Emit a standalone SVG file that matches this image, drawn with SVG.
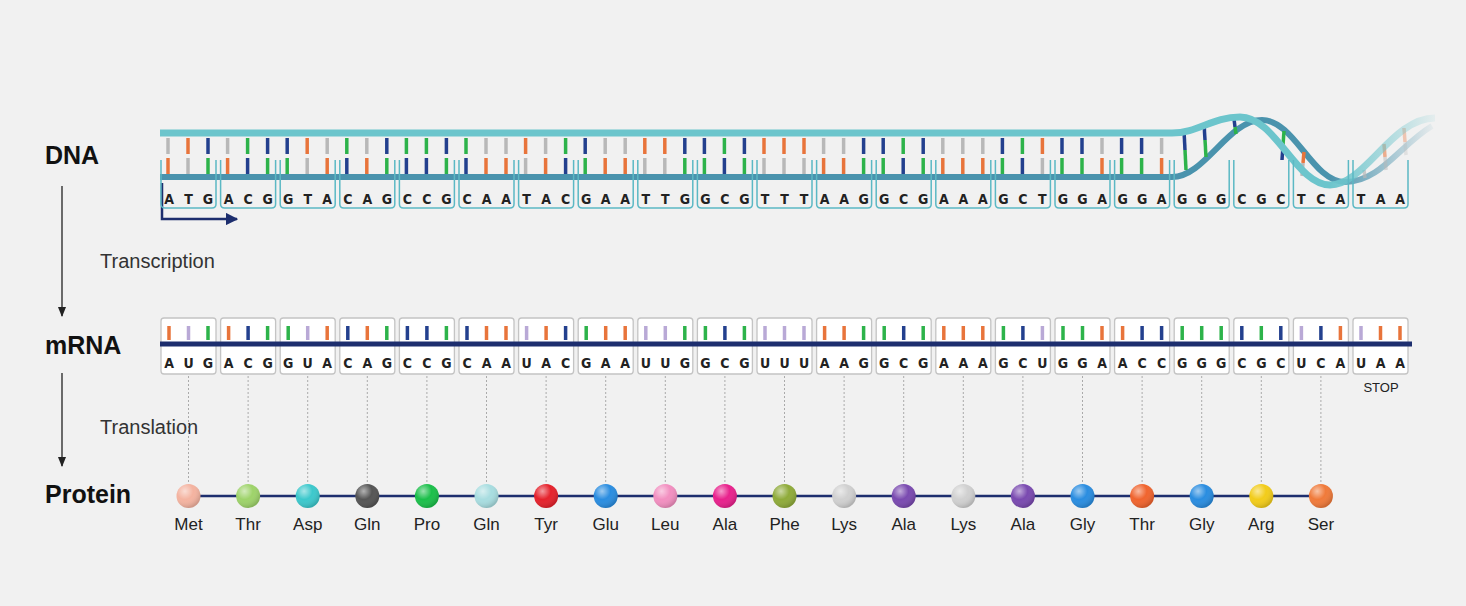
<svg xmlns="http://www.w3.org/2000/svg" xmlns:xlink="http://www.w3.org/1999/xlink" width="1466" height="606" viewBox="0 0 1466 606">
<style>
.lbl{font-family:"Liberation Sans",Arial,sans-serif;font-weight:bold;font-size:25px;fill:#111}
.step{font-family:"Liberation Sans",Arial,sans-serif;font-size:20px;fill:#333}
.aa{font-family:"Liberation Sans",Arial,sans-serif;font-size:17px;fill:#222;text-anchor:middle}
.nt{font-family:"DejaVu Sans Condensed","DejaVu Sans",sans-serif;font-weight:bold;font-size:14px;fill:#222;text-anchor:middle}
.r{stroke-width:3.5}
.o{stroke:#e8743b}.g{stroke:#b8b8b8}.b{stroke:#23408e}.gr{stroke:#2db34a}.u{stroke:#b9a9d6}
.dbox{fill:none;stroke:#5bb8c4;stroke-width:1.5}
.mbox{fill:#fff;stroke:#c4c4c4;stroke-width:1.3}
.dot{stroke:#aaa;stroke-width:1;stroke-dasharray:2 2}
</style>
<defs>
<marker id="ah" viewBox="0 0 10 10" refX="9" refY="5" markerWidth="8" markerHeight="8" orient="auto"><path d="M0,1 L10,5 L0,9 z" fill="#222"/></marker>
<marker id="ah2" viewBox="0 0 10 10" refX="9" refY="5" markerWidth="5" markerHeight="5" orient="auto"><path d="M0,0 L10,5 L0,10 z" fill="#1d2e6e"/></marker>
<path id="db" d="M161,160 V204 q0,4 4,4 H212 q4,0 4,-4 V160"/>
<rect id="mb" x="161" y="318" width="55" height="56" rx="3"/>
<g id="dA"><line class="r g" x1="0" y1="138" x2="0" y2="154"/><line class="r o" x1="0" y1="158" x2="0" y2="174"/></g>
<g id="dT"><line class="r o" x1="0" y1="138" x2="0" y2="154"/><line class="r g" x1="0" y1="158" x2="0" y2="174"/></g>
<g id="dG"><line class="r b" x1="0" y1="138" x2="0" y2="154"/><line class="r gr" x1="0" y1="158" x2="0" y2="174"/></g>
<g id="dC"><line class="r gr" x1="0" y1="138" x2="0" y2="154"/><line class="r b" x1="0" y1="158" x2="0" y2="174"/></g>
<line id="mA" class="r o" x1="0" y1="326" x2="0" y2="340"/>
<line id="mU" class="r u" x1="0" y1="326" x2="0" y2="340"/>
<line id="mG" class="r gr" x1="0" y1="326" x2="0" y2="340"/>
<line id="mC" class="r b" x1="0" y1="326" x2="0" y2="340"/>
<radialGradient id="shine" cx="0.35" cy="0.3" r="0.7"><stop offset="0" stop-color="#fff" stop-opacity="0.55"/><stop offset="0.5" stop-color="#fff" stop-opacity="0"/><stop offset="1" stop-color="#000" stop-opacity="0.15"/></radialGradient>
<linearGradient id="fadeA" gradientUnits="userSpaceOnUse" x1="1330" y1="0" x2="1440" y2="0"><stop offset="0" stop-color="#6cc5cc"/><stop offset="1" stop-color="#6cc5cc" stop-opacity="0.05"/></linearGradient>
<linearGradient id="fadeB" gradientUnits="userSpaceOnUse" x1="1330" y1="0" x2="1435" y2="0"><stop offset="0" stop-color="#4a93ad"/><stop offset="1" stop-color="#4a93ad" stop-opacity="0.05"/></linearGradient>
</defs>
<rect width="1466" height="606" fill="#f1f1f1"/>

<g id="labels">
<text class="lbl" x="45" y="164">DNA</text>
<text class="lbl" x="45" y="354">mRNA</text>
<text class="lbl" x="45" y="503">Protein</text>
<text class="step" x="100" y="268">Transcription</text>
<text class="step" x="100" y="434">Translation</text>
</g>

<g id="connectors">
<line x1="62" y1="186" x2="62" y2="316" stroke="#222" stroke-width="1.3" marker-end="url(#ah)"/>
<line x1="62" y1="373" x2="62" y2="466" stroke="#222" stroke-width="1.3" marker-end="url(#ah)"/>
<path d="M162,183 V219 H237" fill="none" stroke="#1d2e6e" stroke-width="2.5" marker-end="url(#ah2)"/>
</g>

<g id="dna">
<g id="dna-rungs">
<g transform="translate(0,0)"><use href="#dA" x="168"/><use href="#dT" x="188"/><use href="#dG" x="208"/></g>
<g transform="translate(59.6,0)"><use href="#dA" x="168"/><use href="#dC" x="188"/><use href="#dG" x="208"/></g>
<g transform="translate(119.2,0)"><use href="#dG" x="168"/><use href="#dT" x="188"/><use href="#dA" x="208"/></g>
<g transform="translate(178.8,0)"><use href="#dC" x="168"/><use href="#dA" x="188"/><use href="#dG" x="208"/></g>
<g transform="translate(238.4,0)"><use href="#dC" x="168"/><use href="#dC" x="188"/><use href="#dG" x="208"/></g>
<g transform="translate(298,0)"><use href="#dC" x="168"/><use href="#dA" x="188"/><use href="#dA" x="208"/></g>
<g transform="translate(357.6,0)"><use href="#dT" x="168"/><use href="#dA" x="188"/><use href="#dC" x="208"/></g>
<g transform="translate(417.2,0)"><use href="#dG" x="168"/><use href="#dA" x="188"/><use href="#dA" x="208"/></g>
<g transform="translate(476.8,0)"><use href="#dT" x="168"/><use href="#dT" x="188"/><use href="#dG" x="208"/></g>
<g transform="translate(536.4,0)"><use href="#dG" x="168"/><use href="#dC" x="188"/><use href="#dG" x="208"/></g>
<g transform="translate(596,0)"><use href="#dT" x="168"/><use href="#dT" x="188"/><use href="#dT" x="208"/></g>
<g transform="translate(655.6,0)"><use href="#dA" x="168"/><use href="#dA" x="188"/><use href="#dG" x="208"/></g>
<g transform="translate(715.2,0)"><use href="#dG" x="168"/><use href="#dC" x="188"/><use href="#dG" x="208"/></g>
<g transform="translate(774.8,0)"><use href="#dA" x="168"/><use href="#dA" x="188"/><use href="#dA" x="208"/></g>
<g transform="translate(834.4,0)"><use href="#dG" x="168"/><use href="#dC" x="188"/><use href="#dT" x="208"/></g>
<g transform="translate(894,0)"><use href="#dG" x="168"/><use href="#dG" x="188"/><use href="#dA" x="208"/></g>
<g transform="translate(953.6,0)"><use href="#dG" x="168"/><use href="#dG" x="188"/><use href="#dA" x="208"/></g>
</g>
<path d="M160,177 H1172 C1205,177 1228,120 1262,120 C1295,120 1312,182 1345,182 C1380,182 1400,145 1432,126" fill="none" stroke="url(#fadeB)" stroke-width="6"/>
<g id="helix-rungs" stroke-width="3.5">
<line class="b" x1="1184" y1="131" x2="1185" y2="150"/><line class="gr" x1="1185" y1="150" x2="1186" y2="170"/>
<line class="b" x1="1204" y1="123" x2="1205" y2="140"/><line class="gr" x1="1205" y1="140" x2="1206" y2="157"/>
<line class="b" x1="1234" y1="119" x2="1235" y2="127"/><line class="gr" x1="1235" y1="127" x2="1236" y2="134"/>
<line class="gr" x1="1284" y1="131" x2="1283" y2="145"/><line class="b" x1="1283" y1="145" x2="1282" y2="160"/>
<line class="o" x1="1304" y1="152" x2="1303" y2="163"/><line class="g" x1="1303" y1="163" x2="1302" y2="176"/>
<line stroke="#b8b8b8" stroke-opacity="0.7" x1="1364" y1="170" x2="1365" y2="178"/>
<line stroke="#e8743b" stroke-opacity="0.55" x1="1384" y1="144" x2="1385" y2="157"/><line stroke="#b8b8b8" stroke-opacity="0.5" x1="1385" y1="157" x2="1386" y2="170"/>
<line stroke="#e8743b" stroke-opacity="0.35" x1="1404" y1="128" x2="1405" y2="142"/><line stroke="#b8b8b8" stroke-opacity="0.3" x1="1405" y1="142" x2="1406" y2="155"/>
</g>
<path d="M160,133 H1172 C1198,133 1212,117 1240,117 C1276,117 1296,185 1330,185 C1365,185 1392,118 1435,118" fill="none" stroke="url(#fadeA)" stroke-width="7"/>
<g id="dna-boxes" class="dbox">
<use href="#db"/><use href="#db" x="59.6"/><use href="#db" x="119.2"/><use href="#db" x="178.8"/><use href="#db" x="238.4"/><use href="#db" x="298"/><use href="#db" x="357.6"/><use href="#db" x="417.2"/><use href="#db" x="476.8"/><use href="#db" x="536.4"/><use href="#db" x="596"/><use href="#db" x="655.6"/><use href="#db" x="715.2"/><use href="#db" x="774.8"/><use href="#db" x="834.4"/><use href="#db" x="894"/><use href="#db" x="953.6"/><use href="#db" x="1013.2"/><use href="#db" x="1072.8"/><use href="#db" x="1132.4"/><use href="#db" x="1192"/>
</g>
<g id="dna-letters" class="nt">
<text y="204"><tspan x="169">A</tspan><tspan x="188.5">T</tspan><tspan x="208">G</tspan><tspan x="228.6">A</tspan><tspan x="248.1">C</tspan><tspan x="267.6">G</tspan><tspan x="288.2">G</tspan><tspan x="307.7">T</tspan><tspan x="327.2">A</tspan><tspan x="347.8">C</tspan><tspan x="367.3">A</tspan><tspan x="386.8">G</tspan><tspan x="407.4">C</tspan><tspan x="426.9">C</tspan><tspan x="446.4">G</tspan><tspan x="467">C</tspan><tspan x="486.5">A</tspan><tspan x="506">A</tspan><tspan x="526.6">T</tspan><tspan x="546.1">A</tspan><tspan x="565.6">C</tspan><tspan x="586.2">G</tspan><tspan x="605.7">A</tspan><tspan x="625.2">A</tspan><tspan x="645.8">T</tspan><tspan x="665.3">T</tspan><tspan x="684.8">G</tspan><tspan x="705.4">G</tspan><tspan x="724.9">C</tspan><tspan x="744.4">G</tspan><tspan x="765">T</tspan><tspan x="784.5">T</tspan><tspan x="804">T</tspan><tspan x="824.6">A</tspan><tspan x="844.1">A</tspan><tspan x="863.6">G</tspan><tspan x="884.2">G</tspan><tspan x="903.7">C</tspan><tspan x="923.2">G</tspan><tspan x="943.8">A</tspan><tspan x="963.3">A</tspan><tspan x="982.8">A</tspan><tspan x="1003.4">G</tspan><tspan x="1022.9">C</tspan><tspan x="1042.4">T</tspan><tspan x="1063">G</tspan><tspan x="1082.5">G</tspan><tspan x="1102">A</tspan><tspan x="1122.6">G</tspan><tspan x="1142.1">G</tspan><tspan x="1161.6">A</tspan><tspan x="1182.2">G</tspan><tspan x="1201.7">G</tspan><tspan x="1221.2">G</tspan><tspan x="1241.8">C</tspan><tspan x="1261.3">G</tspan><tspan x="1280.8">C</tspan><tspan x="1301.4">T</tspan><tspan x="1320.9">C</tspan><tspan x="1340.4">A</tspan><tspan x="1361">T</tspan><tspan x="1380.5">A</tspan><tspan x="1400">A</tspan></text>
</g>
</g>

<g id="mrna">
<g class="mbox">
<use href="#mb"/><use href="#mb" x="59.6"/><use href="#mb" x="119.2"/><use href="#mb" x="178.8"/><use href="#mb" x="238.4"/><use href="#mb" x="298"/><use href="#mb" x="357.6"/><use href="#mb" x="417.2"/><use href="#mb" x="476.8"/><use href="#mb" x="536.4"/><use href="#mb" x="596"/><use href="#mb" x="655.6"/><use href="#mb" x="715.2"/><use href="#mb" x="774.8"/><use href="#mb" x="834.4"/><use href="#mb" x="894"/><use href="#mb" x="953.6"/><use href="#mb" x="1013.2"/><use href="#mb" x="1072.8"/><use href="#mb" x="1132.4"/><use href="#mb" x="1192"/>
</g>
<line x1="160" y1="344" x2="1412" y2="344" stroke="#1d2e6e" stroke-width="5"/>
<g id="mrna-rungs">
<g><use href="#mA" x="169"/><use href="#mU" x="188.5"/><use href="#mG" x="208"/></g>
<g transform="translate(59.6,0)"><use href="#mA" x="169"/><use href="#mC" x="188.5"/><use href="#mG" x="208"/></g>
<g transform="translate(119.2,0)"><use href="#mG" x="169"/><use href="#mU" x="188.5"/><use href="#mA" x="208"/></g>
<g transform="translate(178.8,0)"><use href="#mC" x="169"/><use href="#mA" x="188.5"/><use href="#mG" x="208"/></g>
<g transform="translate(238.4,0)"><use href="#mC" x="169"/><use href="#mC" x="188.5"/><use href="#mG" x="208"/></g>
<g transform="translate(298,0)"><use href="#mC" x="169"/><use href="#mA" x="188.5"/><use href="#mA" x="208"/></g>
<g transform="translate(357.6,0)"><use href="#mU" x="169"/><use href="#mA" x="188.5"/><use href="#mC" x="208"/></g>
<g transform="translate(417.2,0)"><use href="#mG" x="169"/><use href="#mA" x="188.5"/><use href="#mA" x="208"/></g>
<g transform="translate(476.8,0)"><use href="#mU" x="169"/><use href="#mU" x="188.5"/><use href="#mG" x="208"/></g>
<g transform="translate(536.4,0)"><use href="#mG" x="169"/><use href="#mC" x="188.5"/><use href="#mG" x="208"/></g>
<g transform="translate(596,0)"><use href="#mU" x="169"/><use href="#mU" x="188.5"/><use href="#mU" x="208"/></g>
<g transform="translate(655.6,0)"><use href="#mA" x="169"/><use href="#mA" x="188.5"/><use href="#mG" x="208"/></g>
<g transform="translate(715.2,0)"><use href="#mG" x="169"/><use href="#mC" x="188.5"/><use href="#mG" x="208"/></g>
<g transform="translate(774.8,0)"><use href="#mA" x="169"/><use href="#mA" x="188.5"/><use href="#mA" x="208"/></g>
<g transform="translate(834.4,0)"><use href="#mG" x="169"/><use href="#mC" x="188.5"/><use href="#mU" x="208"/></g>
<g transform="translate(894,0)"><use href="#mG" x="169"/><use href="#mG" x="188.5"/><use href="#mA" x="208"/></g>
<g transform="translate(953.6,0)"><use href="#mA" x="169"/><use href="#mC" x="188.5"/><use href="#mC" x="208"/></g>
<g transform="translate(1013.2,0)"><use href="#mG" x="169"/><use href="#mG" x="188.5"/><use href="#mG" x="208"/></g>
<g transform="translate(1072.8,0)"><use href="#mC" x="169"/><use href="#mG" x="188.5"/><use href="#mC" x="208"/></g>
<g transform="translate(1132.4,0)"><use href="#mU" x="169"/><use href="#mC" x="188.5"/><use href="#mA" x="208"/></g>
<g transform="translate(1192,0)"><use href="#mU" x="169"/><use href="#mA" x="188.5"/><use href="#mA" x="208"/></g>
</g>
<g class="nt">
<text y="368"><tspan x="169">A</tspan><tspan x="188.5">U</tspan><tspan x="208">G</tspan><tspan x="228.6">A</tspan><tspan x="248.1">C</tspan><tspan x="267.6">G</tspan><tspan x="288.2">G</tspan><tspan x="307.7">U</tspan><tspan x="327.2">A</tspan><tspan x="347.8">C</tspan><tspan x="367.3">A</tspan><tspan x="386.8">G</tspan><tspan x="407.4">C</tspan><tspan x="426.9">C</tspan><tspan x="446.4">G</tspan><tspan x="467">C</tspan><tspan x="486.5">A</tspan><tspan x="506">A</tspan><tspan x="526.6">U</tspan><tspan x="546.1">A</tspan><tspan x="565.6">C</tspan><tspan x="586.2">G</tspan><tspan x="605.7">A</tspan><tspan x="625.2">A</tspan><tspan x="645.8">U</tspan><tspan x="665.3">U</tspan><tspan x="684.8">G</tspan><tspan x="705.4">G</tspan><tspan x="724.9">C</tspan><tspan x="744.4">G</tspan><tspan x="765">U</tspan><tspan x="784.5">U</tspan><tspan x="804">U</tspan><tspan x="824.6">A</tspan><tspan x="844.1">A</tspan><tspan x="863.6">G</tspan><tspan x="884.2">G</tspan><tspan x="903.7">C</tspan><tspan x="923.2">G</tspan><tspan x="943.8">A</tspan><tspan x="963.3">A</tspan><tspan x="982.8">A</tspan><tspan x="1003.4">G</tspan><tspan x="1022.9">C</tspan><tspan x="1042.4">U</tspan><tspan x="1063">G</tspan><tspan x="1082.5">G</tspan><tspan x="1102">A</tspan><tspan x="1122.6">A</tspan><tspan x="1142.1">C</tspan><tspan x="1161.6">C</tspan><tspan x="1182.2">G</tspan><tspan x="1201.7">G</tspan><tspan x="1221.2">G</tspan><tspan x="1241.8">C</tspan><tspan x="1261.3">G</tspan><tspan x="1280.8">C</tspan><tspan x="1301.4">U</tspan><tspan x="1320.9">C</tspan><tspan x="1340.4">A</tspan><tspan x="1361">U</tspan><tspan x="1380.5">A</tspan><tspan x="1400">A</tspan></text>
</g>
<text x="1381" y="392" style="font-family:'Liberation Sans',Arial,sans-serif;font-size:13px;fill:#222;text-anchor:middle">STOP</text>
</g>

<g id="dotted-links" class="dot">
<line x1="188.5" y1="376" x2="188.5" y2="484"/><line x1="248.1" y1="376" x2="248.1" y2="484"/><line x1="307.7" y1="376" x2="307.7" y2="484"/><line x1="367.3" y1="376" x2="367.3" y2="484"/><line x1="426.9" y1="376" x2="426.9" y2="484"/><line x1="486.5" y1="376" x2="486.5" y2="484"/><line x1="546.1" y1="376" x2="546.1" y2="484"/><line x1="605.7" y1="376" x2="605.7" y2="484"/><line x1="665.3" y1="376" x2="665.3" y2="484"/><line x1="724.9" y1="376" x2="724.9" y2="484"/><line x1="784.5" y1="376" x2="784.5" y2="484"/><line x1="844.1" y1="376" x2="844.1" y2="484"/><line x1="903.7" y1="376" x2="903.7" y2="484"/><line x1="963.3" y1="376" x2="963.3" y2="484"/><line x1="1022.9" y1="376" x2="1022.9" y2="484"/><line x1="1082.5" y1="376" x2="1082.5" y2="484"/><line x1="1142.1" y1="376" x2="1142.1" y2="484"/><line x1="1201.7" y1="376" x2="1201.7" y2="484"/><line x1="1261.3" y1="376" x2="1261.3" y2="484"/><line x1="1320.9" y1="376" x2="1320.9" y2="484"/>
</g>

<g id="protein">
<line x1="188" y1="496" x2="1321" y2="496" stroke="#1d2e6e" stroke-width="2.5"/>
<g id="aa-balls">
<circle cx="188.5" cy="496" r="12" fill="#f4b3a0"/><circle cx="248.1" cy="496" r="12" fill="#9ed36a"/><circle cx="307.7" cy="496" r="12" fill="#3cc8cc"/><circle cx="367.3" cy="496" r="12" fill="#555"/><circle cx="426.9" cy="496" r="12" fill="#1bbf4a"/><circle cx="486.5" cy="496" r="12" fill="#a8dde0"/><circle cx="546.1" cy="496" r="12" fill="#e5222c"/><circle cx="605.7" cy="496" r="12" fill="#2a8de0"/><circle cx="665.3" cy="496" r="12" fill="#f28fc0"/><circle cx="724.9" cy="496" r="12" fill="#e8218c"/><circle cx="784.5" cy="496" r="12" fill="#8fab3a"/><circle cx="844.1" cy="496" r="12" fill="#d0d0d0"/><circle cx="903.7" cy="496" r="12" fill="#7a4ab0"/><circle cx="963.3" cy="496" r="12" fill="#d0d0d0"/><circle cx="1022.9" cy="496" r="12" fill="#7a4ab0"/><circle cx="1082.5" cy="496" r="12" fill="#2a8de0"/><circle cx="1142.1" cy="496" r="12" fill="#f0642e"/><circle cx="1201.7" cy="496" r="12" fill="#2a8de0"/><circle cx="1261.3" cy="496" r="12" fill="#f2cc1a"/><circle cx="1320.9" cy="496" r="12" fill="#f07a3a"/>
</g>
<g fill="url(#shine)">
<circle cx="188.5" cy="496" r="12"/><circle cx="248.1" cy="496" r="12"/><circle cx="307.7" cy="496" r="12"/><circle cx="367.3" cy="496" r="12"/><circle cx="426.9" cy="496" r="12"/><circle cx="486.5" cy="496" r="12"/><circle cx="546.1" cy="496" r="12"/><circle cx="605.7" cy="496" r="12"/><circle cx="665.3" cy="496" r="12"/><circle cx="724.9" cy="496" r="12"/><circle cx="784.5" cy="496" r="12"/><circle cx="844.1" cy="496" r="12"/><circle cx="903.7" cy="496" r="12"/><circle cx="963.3" cy="496" r="12"/><circle cx="1022.9" cy="496" r="12"/><circle cx="1082.5" cy="496" r="12"/><circle cx="1142.1" cy="496" r="12"/><circle cx="1201.7" cy="496" r="12"/><circle cx="1261.3" cy="496" r="12"/><circle cx="1320.9" cy="496" r="12"/>
</g>
<g class="aa">
<text x="188.5" y="530">Met</text><text x="248.1" y="530">Thr</text><text x="307.7" y="530">Asp</text><text x="367.3" y="530">Gln</text><text x="426.9" y="530">Pro</text><text x="486.5" y="530">Gln</text><text x="546.1" y="530">Tyr</text><text x="605.7" y="530">Glu</text><text x="665.3" y="530">Leu</text><text x="724.9" y="530">Ala</text><text x="784.5" y="530">Phe</text><text x="844.1" y="530">Lys</text><text x="903.7" y="530">Ala</text><text x="963.3" y="530">Lys</text><text x="1022.9" y="530">Ala</text><text x="1082.5" y="530">Gly</text><text x="1142.1" y="530">Thr</text><text x="1201.7" y="530">Gly</text><text x="1261.3" y="530">Arg</text><text x="1320.9" y="530">Ser</text>
</g>
</g>
</svg>
